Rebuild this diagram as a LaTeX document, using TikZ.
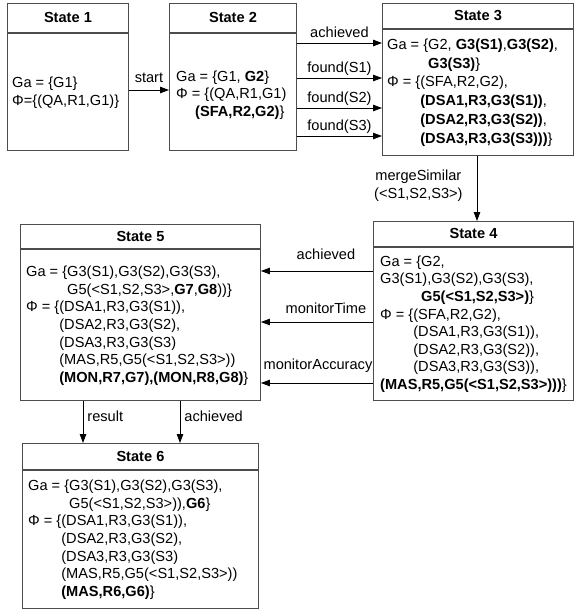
\documentclass[tikz,border=0pt]{standalone}
\usepackage{fontspec}
\setmainfont{Liberation Sans}
\usetikzlibrary{arrows.meta}
\newcommand\statefont{\fontsize{14.6}{17.6}\selectfont}

\begin{document}
\begin{tikzpicture}[x=1pt,y=-1pt,
  every node/.style={font=\statefont},
  hdr/.style={draw=black!70, line width=0.9pt, anchor=north west, inner sep=0pt, font=\statefont\bfseries},
  body/.style={draw=black!70, line width=0.9pt, anchor=north, inner sep=0pt},
  txt/.style={anchor=north west, align=left, inner sep=0pt},
  lbl/.style={inner sep=2pt},
  lbld/.style={lbl, text depth=3pt},
  arr/.style={-{Triangle[length=9pt,width=6.5pt]}, line width=0.8pt}]
  \useasboundingbox (0,0) rectangle (577,611);
  % states
  \node[hdr, minimum width=121, minimum height=29] (s1h) at (7,3) {State 1};
  \node[body, minimum width=121, minimum height=117] (s1) at (s1h.south) {};
  \node[hdr, minimum width=127, minimum height=29] (s2h) at (169,3) {State 2};
  \node[body, minimum width=127, minimum height=117] (s2) at (s2h.south) {};
  \node[hdr, minimum width=191, minimum height=25] (s3h) at (382,3) {State 3};
  \node[body, minimum width=191, minimum height=126] (s3) at (s3h.south) {};
  \node[hdr, minimum width=200, minimum height=25] (s4h) at (373,221) {State 4};
  \node[body, minimum width=200, minimum height=153] (s4) at (s4h.south) {};
  \node[hdr, minimum width=240, minimum height=24] (s5h) at (20,224) {State 5};
  \node[body, minimum width=240, minimum height=151] (s5) at (s5h.south) {};
  \node[hdr, minimum width=236, minimum height=26] (s6h) at (22,443) {State 6};
  \node[body, minimum width=236, minimum height=138] (s6) at (s6h.south) {};
  % contents
  \node[txt] (t1) at (12,77) {Ga = \{G1\}\\Φ=\{(QA,R1,G1)\}};
  \node[txt] (t2) at (176,70.5) {Ga = \{G1, \textbf{G2}\}\\
    Φ = \{(QA,R1,G1)\\
    \hspace*{19pt}\textbf{(SFA,R2,G2)}\}};
  \node[txt, font=\fontsize{14.6}{18.8}\selectfont] (t3) at (387,38.5) {Ga = \{G2, \textbf{G3(S1)},\textbf{G3(S2)},\\
    \phantom{Ga = \{}\textbf{G3(S3)}\}\\
    Φ = \{(SFA,R2,G2),\\
    \phantom{Φ = \{}\textbf{(DSA1,R3,G3(S1))},\\
    \phantom{Φ = \{}\textbf{(DSA2,R3,G3(S2))},\\
    \phantom{Φ = \{}\textbf{(DSA3,R3,G3(S3)))}\}};
  \node[txt] (t4) at (380,255.5) {Ga = \{G2,\\
    G3(S1),G3(S2),G3(S3),\\
    \phantom{Ga = \{}\textbf{G5(<S1,S2,S3>)}\}\\
    Φ = \{(SFA,R2,G2),\\
    \phantom{Φ = \{}(DSA1,R3,G3(S1)),\\
    \phantom{Φ = \{}(DSA2,R3,G3(S2)),\\
    \phantom{Φ = \{}(DSA3,R3,G3(S3)),\\
    \textbf{(MAS,R5,G5(<S1,S2,S3>)))}\}};
  \node[txt] (t5) at (26,266) {Ga = \{G3(S1),G3(S2),G3(S3),\\
    \phantom{Ga = \{}G5(<S1,S2,S3>,\textbf{G7},\textbf{G8}))\}\\
    Φ = \{(DSA1,R3,G3(S1)),\\
    \phantom{Φ = \{}(DSA2,R3,G3(S2),\\
    \phantom{Φ = \{}(DSA3,R3,G3(S3)\\
    \phantom{Φ = \{}(MAS,R5,G5(<S1,S2,S3>))\\
    \phantom{Φ = \{}\textbf{(MON,R7,G7),(MON,R8,G8)}\}};
  \node[txt] (t6) at (28,480) {Ga = \{G3(S1),G3(S2),G3(S3),\\
    \phantom{Ga = \{}G5(<S1,S2,S3>)),\textbf{G6}\}\\
    Φ = \{(DSA1,R3,G3(S1)),\\
    \phantom{Φ = \{}(DSA2,R3,G3(S2),\\
    \phantom{Φ = \{}(DSA3,R3,G3(S3)\\
    \phantom{Φ = \{}(MAS,R5,G5(<S1,S2,S3>))\\
    \phantom{Φ = \{}\textbf{(MAS,R6,G6)}\}};
  % transitions
  \draw[arr] (s1.east |- 0,90) -- node[lbld, above=2pt] (l1) {start} (s2.west |- 0,90);
  \foreach \y/\t [count=\i] in {43/achieved, 78/found(S1), 108/found(S2), 136/found(S3)}
    \draw[arr] (s2.east |- 0,\y) -- node[lbld, above] (l2\i) {\t} (s3.west |- 0,\y);
  \draw[arr] (s3.south -| 477,0) -- node[lbl, left=12pt, yshift=2.5pt, align=center] (l3)
    {mergeSimilar\\(<S1,S2,S3>)} (s4h.north -| 477,0);
  \draw[arr] (s4.west |- 0,271) -- node[lbld, above=6pt, xshift=9pt] (l41) {achieved} (s5.east |- 0,271);
  \draw[arr] (s4.west |- 0,322) -- node[lbld, above=3pt, xshift=9pt] (l42) {monitorTime} (s5.east |- 0,322);
  \draw[arr] (s4.west |- 0,383) -- node[lbld, above=8pt, xshift=1pt] (l43) {monitorAccuracy} (s5.east |- 0,383);
  \draw[arr] (s5.south -| 83,0) -- node[lbld, pos=0.48, anchor=base west, xshift=2pt] (l51) {result} (s6h.north -| 83,0);
  \draw[arr] (s5.south -| 180,0) -- node[lbld, pos=0.48, anchor=base west, xshift=2pt] (l52) {achieved} (s6h.north -| 180,0);
\end{tikzpicture}
\end{document}
